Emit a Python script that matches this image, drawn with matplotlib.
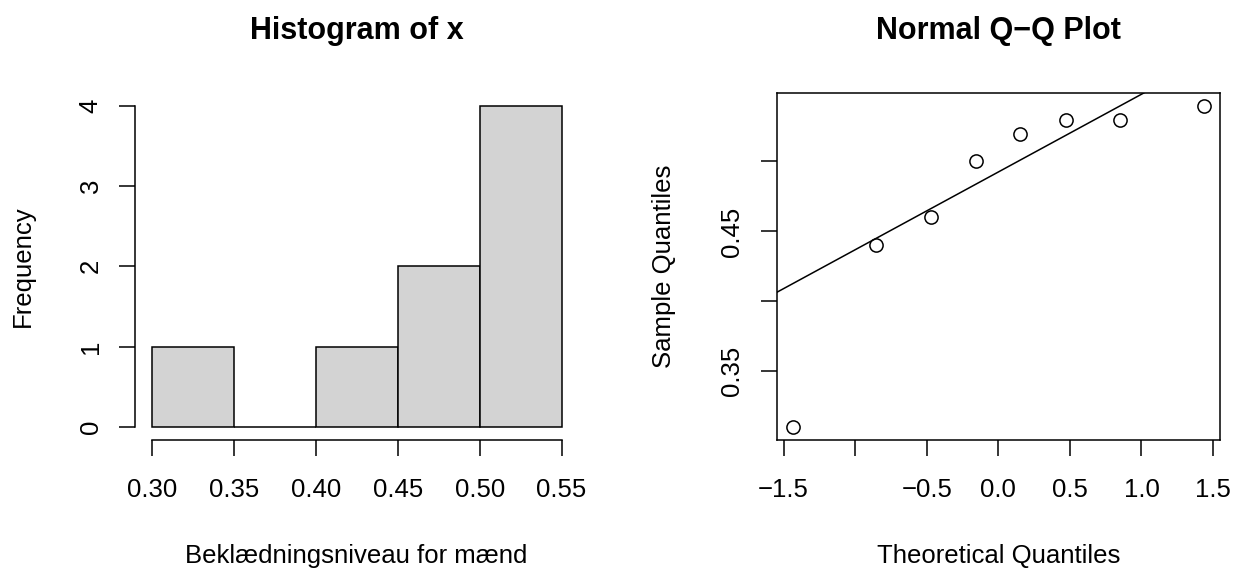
import numpy as np
import matplotlib
matplotlib.use("Agg")
import matplotlib.pyplot as plt

plt.rcParams['font.family'] = ['Liberation Sans', 'DejaVu Sans']

# histogram of x (bins are right-closed, as in R's hist)
bin_edges = [0.30, 0.35, 0.40, 0.45, 0.50, 0.55]
bin_counts = [1, 0, 1, 2, 4]
hist_xticks = [0.30, 0.35, 0.40, 0.45, 0.50, 0.55]
hist_xlabels = ['0.30', '0.35', '0.40', '0.45', '0.50', '0.55']
hist_yticks = [0, 1, 2, 3, 4]

# normal Q-Q plot
theo_q = [-1.434, -0.852, -0.473, -0.153, 0.153, 0.473, 0.852, 1.434]
sample_q = [0.31, 0.44, 0.46, 0.50, 0.52, 0.53, 0.53, 0.54]
qq_xticks = [-1.5, -1.0, -0.5, 0.0, 0.5, 1.0, 1.5]
qq_xlabels = ['\u22121.5', '', '\u22120.5', '0.0', '0.5', '1.0', '1.5']
qq_yticks = [0.35, 0.40, 0.45, 0.50]
qq_ylabels = ['0.35', '', '0.45', '']
Z_QUART = 0.6745  # qnorm(0.75)

LW = 1.1
FS = 18.5


def rlim(lo, hi):
    # R style: extend the data range by 4% on each side
    d = (hi - lo) * 0.04
    return lo - d, hi + d


def style_ticks(ax):
    ax.tick_params(axis='both', direction='out', length=11.5, width=LW,
                   labelsize=FS, colors='black')
    ax.tick_params(axis='x', pad=16)
    ax.tick_params(axis='y', pad=12)
    for lab in ax.get_yticklabels():
        lab.set_rotation(90)
        lab.set_va('center')
        lab.set_ha('right')


fig = plt.figure(figsize=(12.34, 5.68), dpi=100)
ax1 = fig.add_axes([0.10964, 0.22535, 0.35876, 0.61145])
ax2 = fig.add_axes([0.62942, 0.22535, 0.35924, 0.61145])

# --- Histogram ---
widths = np.diff(bin_edges)
ax1.bar(bin_edges[:-1], bin_counts, width=widths, align='edge',
        color='#D3D3D3', edgecolor='black', linewidth=LW)
ax1.set_xlim(*rlim(bin_edges[0], bin_edges[-1]))
ax1.set_ylim(*rlim(0, max(bin_counts)))
ax1.spines['top'].set_visible(False)
ax1.spines['right'].set_visible(False)
ax1.spines['left'].set_bounds(hist_yticks[0], hist_yticks[-1])
ax1.spines['bottom'].set_bounds(hist_xticks[0], hist_xticks[-1])
for sp in ax1.spines.values():
    sp.set_linewidth(LW)
ax1.set_xticks(hist_xticks)
ax1.set_xticklabels(hist_xlabels)
ax1.set_yticks(hist_yticks)
ax1.set_yticklabels([str(v) for v in hist_yticks])
style_ticks(ax1)
ax1.set_title('Histogram of x', fontsize=22, fontweight='bold', pad=38.7)
ax1.set_xlabel('Beklædningsniveau for mænd', fontsize=FS)
ax1.set_ylabel('Frequency', fontsize=FS)
ax1.xaxis.set_label_coords(0.5, -0.334)
ax1.xaxis.label.set_va('center')
ax1.yaxis.set_label_coords(-0.254, 0.5)
ax1.yaxis.label.set_va('center')

# --- Normal Q-Q ---
ax2.plot(theo_q, sample_q, 'o', mfc='none', mec='black', ms=9.5, mew=LW)
q1, q3 = np.quantile(sample_q, [0.25, 0.75])
slope = (q3 - q1) / (2 * Z_QUART)
intercept = q1 + Z_QUART * slope
ax2.axline((0, intercept), slope=slope, color='black', linewidth=LW)
ax2.set_xlim(*rlim(min(theo_q), max(theo_q)))
ax2.set_ylim(*rlim(min(sample_q), max(sample_q)))
for sp in ax2.spines.values():
    sp.set_linewidth(LW)
ax2.set_xticks(qq_xticks)
ax2.set_xticklabels(qq_xlabels)
ax2.set_yticks(qq_yticks)
ax2.set_yticklabels(qq_ylabels)
style_ticks(ax2)
ax2.set_title('Normal Q\u2212Q Plot', fontsize=22, fontweight='bold', pad=38.7)
ax2.set_xlabel('Theoretical Quantiles', fontsize=FS)
ax2.set_ylabel('Sample Quantiles', fontsize=FS)
ax2.xaxis.set_label_coords(0.5, -0.334)
ax2.xaxis.label.set_va('center')
ax2.yaxis.set_label_coords(-0.254, 0.5)
ax2.yaxis.label.set_va('center')

fig.savefig('out.png', dpi=100)
